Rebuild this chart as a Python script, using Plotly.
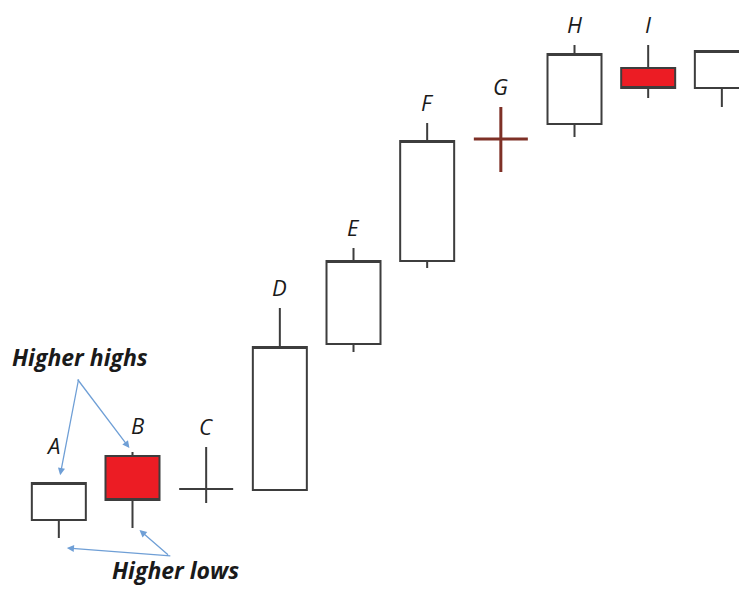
import plotly.graph_objects as go

# Candle data (arbitrary price units), one entry per candle
labels = ["A", "B", "C", "D", "E", "F", "G", "H", "I", ""]
open_ = [7.1, 13.5, 10.2, 10.1, 24.7, 33.0, 45.2, 46.7, 52.3, 50.3]
high = [10.9, 13.9, 14.4, 28.3, 34.3, 46.8, 48.4, 54.6, 54.6, 54.1]
low = [5.3, 6.3, 8.8, 10.1, 23.9, 32.3, 41.9, 45.4, 49.3, 48.4]
close = [10.8, 9.1, 10.2, 24.4, 33.0, 45.0, 45.2, 53.7, 50.3, 54.0]
kind = ["white", "red", "white", "white", "white", "white", "doji_red", "white", "red", "white"]

LINE = "#3d3d3d"
RED = "#ec1c24"
DOJI = "#7e3026"
ARROW = "#6f9fd6"


def pick(vals, k):
    return [v for v, kk in zip(vals, kind) if kk == k]


idx = list(range(len(labels)))
styles = {
    "white": dict(line=LINE, fill="white", width=2),
    "red": dict(line=LINE, fill=RED, width=2),
    "doji_red": dict(line=DOJI, fill=DOJI, width=3),
}

fig = go.Figure()
for k, st in styles.items():
    side = {"line": {"color": st["line"], "width": st["width"]}, "fillcolor": st["fill"]}
    fig.add_trace(
        go.Candlestick(
            x=pick(idx, k),
            open=pick(open_, k),
            high=pick(high, k),
            low=pick(low, k),
            close=pick(close, k),
            increasing=side,
            decreasing=side,
            whiskerwidth=0,
            hoverinfo="skip",
            name=k,
        )
    )

# -- Letter labels above each candle ------------------------------------------
# A and B sit a bit higher to make room for the callout arrows
label_lift = {0: (-6, 20), 1: (5, 10)}
annotations = []
for i, lab in enumerate(labels):
    if not lab:
        continue
    dx, dy = label_lift.get(i, (0, 4))
    annotations.append(
        dict(
            x=i,
            y=high[i],
            text=f"<i>{lab}</i>",
            showarrow=False,
            yanchor="bottom",
            yshift=dy,
            xshift=dx,
            font=dict(family="Open Sans", size=22, color="#1a1a1a"),
        )
    )

# -- "Higher highs" / "Higher lows" callouts ----------------------------------
text_font = dict(family="Open Sans", size=23, color="#1a1a1a")
annotations += [
    dict(x=0.0964, y=0.4095, xref="paper", yref="paper", xanchor="center", yanchor="middle",
         text="<b><i>Higher highs</i></b>", showarrow=False, font=text_font),
    dict(x=0.2236, y=0.049, xref="paper", yref="paper", xanchor="center", yanchor="middle",
         text="<b><i>Higher lows</i></b>", showarrow=False, font=text_font),
]
arrow_style = dict(text="", showarrow=True, arrowhead=2, arrowsize=1.1,
                   arrowwidth=1.3, arrowcolor=ARROW, axref="pixel", ayref="pixel")
annotations += [
    dict(x=0, y=high[0], ax=20, ay=-104, standoff=7, **arrow_style),
    dict(x=1, y=high[1], ax=-56, ay=-74, standoff=5, **arrow_style),
    dict(x=0, y=low[0], xshift=8, yshift=-10, ax=105, ay=8, **arrow_style),
    dict(x=1, y=low[1], xshift=7, yshift=-2, ax=30, ay=26, **arrow_style),
]

fig.update_layout(
    width=747,
    height=591,
    margin=dict(l=0, r=0, t=0, b=0),
    paper_bgcolor="white",
    plot_bgcolor="white",
    showlegend=False,
    boxgap=0.267,
    boxgroupgap=0,
    annotations=annotations,
    xaxis=dict(range=[-0.69, 9.45], visible=False, rangeslider=dict(visible=False)),
    yaxis=dict(range=[-0.8, 58.3], visible=False),
)

fig.write_html("out.html")
